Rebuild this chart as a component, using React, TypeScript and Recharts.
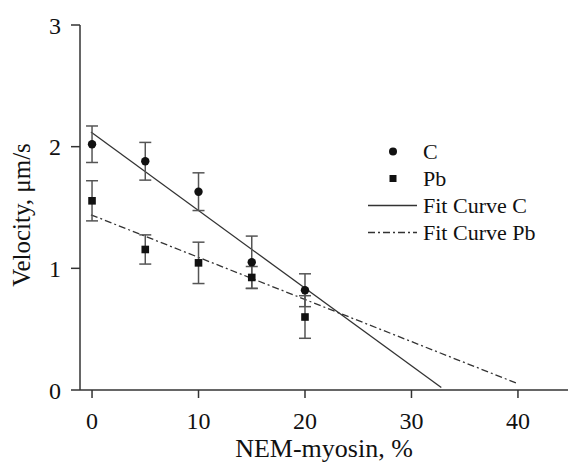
import React from 'react';
import { ComposedChart, XAxis, YAxis, Scatter, Line, ErrorBar } from 'recharts';

const xTicks = [0, 10, 20, 30, 40];
const yTicks = [0, 1, 2, 3];

const nemPercent = [0, 5, 10, 15, 20];
const velocityC = [2.02, 1.88, 1.63, 1.05, 0.82];
const errorC = [0.15, 0.155, 0.155, 0.215, 0.135];
const velocityPb = [1.555, 1.155, 1.045, 0.925, 0.6];
const errorPb = [0.165, 0.12, 0.17, 0.09, 0.175];

const fitCx = [-0.1, 32.8];
const fitCy = [2.12, 0.02];
const fitPbx = [-0.1, 39.9];
const fitPby = [1.44, 0.055];

const cData = nemPercent.map((x, i) => ({ x, y: velocityC[i], err: errorC[i] }));
const pbData = nemPercent.map((x, i) => ({ x, y: velocityPb[i], err: errorPb[i] }));
const fitCData = fitCx.map((x, i) => ({ x, y: fitCy[i] }));
const fitPbData = fitPbx.map((x, i) => ({ x, y: fitPby[i] }));

const FONT = '"Liberation Serif", "Times New Roman", serif';
const DASH = '7 3 2 3';

const legendItems = [
  { label: 'C', kind: 'circle' },
  { label: 'Pb', kind: 'square' },
  { label: 'Fit Curve C', kind: 'solid' },
  { label: 'Fit Curve Pb', kind: 'dashdot' },
];

const LegendBox = () => (
  <div
    style={{
      position: 'absolute',
      left: 367,
      top: 138,
      width: 200,
      fontFamily: FONT,
      fontSize: 22,
      color: '#111',
    }}
  >
    {legendItems.map((it) => (
      <div key={it.label} style={{ display: 'flex', alignItems: 'center', height: 27 }}>
        <svg width={52} height={27} style={{ display: 'block' }}>
          {it.kind === 'circle' && <circle cx={26} cy={13.5} r={4} fill="#111" />}
          {it.kind === 'square' && <rect x={22.5} y={10} width={7} height={7} fill="#111" />}
          {it.kind === 'solid' && <line x1={1} x2={50} y1={13.5} y2={13.5} stroke="#333" strokeWidth={1.3} />}
          {it.kind === 'dashdot' && (
            <line x1={1} x2={50} y1={13.5} y2={13.5} stroke="#333" strokeWidth={1.3} strokeDasharray={DASH} />
          )}
        </svg>
        <span style={{ marginLeft: 4, lineHeight: '27px' }}>{it.label}</span>
      </div>
    ))}
  </div>
);

const CircleShape = (p: any) => <circle cx={p.cx} cy={p.cy} r={4.2} fill="#111" />;
const SquareShape = (p: any) => <rect x={p.cx - 3.8} y={p.cy - 3.8} width={7.6} height={7.6} fill="#111" />;

export default function App() {
  return (
    <div style={{ position: 'absolute', left: 0, top: 0, width: 568, height: 464, background: '#fff' }}>
      <ComposedChart width={568} height={464} margin={{ top: 25, right: 0, bottom: 0, left: 0 }}>
        <XAxis
          dataKey="x"
          type="number"
          domain={[-1.13, 44.7]}
          ticks={xTicks}
          allowDataOverflow
          height={74}
          tickSize={8}
          tickMargin={14}
          stroke="#333"
          strokeWidth={1.5}
          tick={{ fill: '#111', fontSize: 24, fontFamily: FONT }}
          label={{
            content: (props: any) => {
              const vb = props.viewBox || {};
              return (
                <text x={vb.x + vb.width / 2} y={457} textAnchor="middle" fontFamily={FONT} fontSize={26} fill="#111">
                  NEM-myosin, %
                </text>
              );
            },
          }}
        />
        <YAxis
          dataKey="y"
          type="number"
          domain={[0, 3]}
          ticks={yTicks}
          width={80}
          tickSize={9}
          tickMargin={10}
          stroke="#333"
          strokeWidth={1.5}
          tick={{ fill: '#111', fontSize: 24, fontFamily: FONT }}
          label={{
            content: () => (
              <text
                x={30}
                y={215}
                transform="rotate(-90 30 215)"
                textAnchor="middle"
                fontFamily={FONT}
                fontSize={25}
                fill="#111"
              >
                Velocity, μm/s
              </text>
            ),
          }}
        />
        <Line
          data={fitCData}
          dataKey="y"
          stroke="#333"
          strokeWidth={1.3}
          dot={false}
          isAnimationActive={false}
          legendType="none"
        />
        <Line
          data={fitPbData}
          dataKey="y"
          stroke="#333"
          strokeWidth={1.3}
          strokeDasharray={DASH}
          dot={false}
          isAnimationActive={false}
          legendType="none"
        />
        <Scatter data={cData} dataKey="y" shape={CircleShape} isAnimationActive={false}>
          <ErrorBar dataKey="err" direction="y" width={6} stroke="#555" strokeWidth={1.5} />
        </Scatter>
        <Scatter data={pbData} dataKey="y" shape={SquareShape} isAnimationActive={false}>
          <ErrorBar dataKey="err" direction="y" width={6} stroke="#555" strokeWidth={1.5} />
        </Scatter>
      </ComposedChart>
      <LegendBox />
    </div>
  );
}
